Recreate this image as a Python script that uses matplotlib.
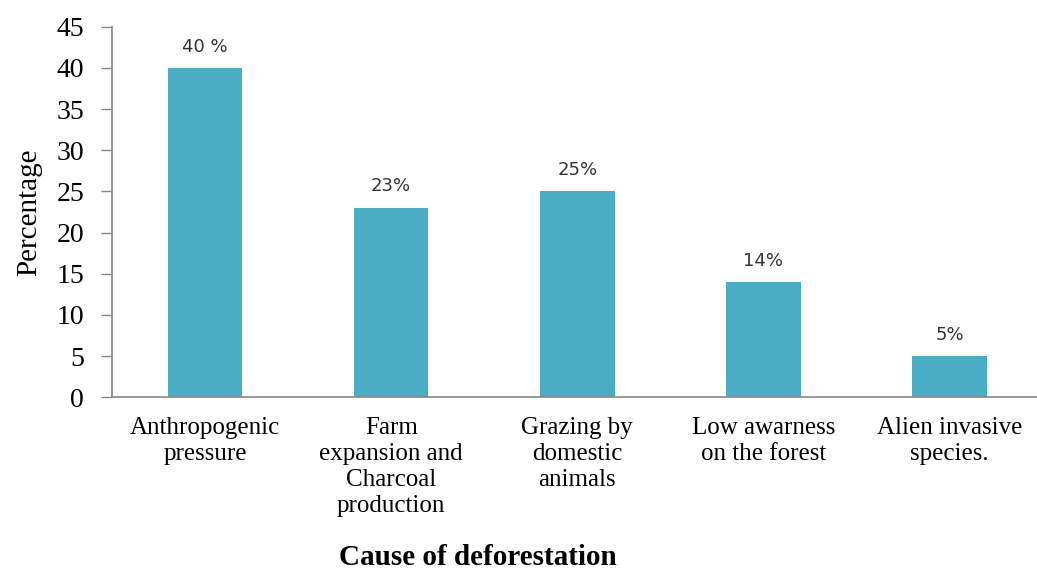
import matplotlib
matplotlib.use("Agg")
import matplotlib.pyplot as plt

causes = ["Anthropogenic\npressure", "Farm\nexpansion and\nCharcoal\nproduction",
          "Grazing by\ndomestic\nanimals", "Low awarness\non the forest",
          "Alien invasive\nspecies."]
percent = [40, 23, 25, 14, 5]
bar_labels = ["40 %", "23%", "25%", "14%", "5%"]

fig = plt.figure(figsize=(10.37, 5.69), dpi=100)
ax = fig.add_axes([0.108, 0.302, 0.892, 0.651])

x = range(len(causes))
bars = ax.bar(x, percent, width=0.4, color="#4BACC6")
for b, lab in zip(bars, bar_labels):
    ax.text(b.get_x() + b.get_width() / 2, b.get_height() + 1.5, lab,
            ha="center", va="bottom", fontsize=13, family="DejaVu Sans", color="#333333")

ax.set_xlim(-0.5, 4.47)
ax.set_ylim(0, 45)
ax.set_yticks(range(0, 46, 5))
ax.set_xticks(list(x))
ax.set_xticklabels(causes, family="Liberation Serif", fontsize=18, linespacing=1.25)
ax.tick_params(axis="x", length=0, pad=14)
ax.tick_params(axis="y", length=8, width=1, color="#868686", pad=12)
for t in ax.get_yticklabels():
    t.set_family("Liberation Serif")
    t.set_fontsize(20)

for side in ["top", "right"]:
    ax.spines[side].set_visible(False)
for side in ["left", "bottom"]:
    ax.spines[side].set_color("#868686")
    ax.spines[side].set_linewidth(1.2)

ax.set_ylabel("Percentage", family="Liberation Serif", fontsize=21, labelpad=10)
fig.text(0.461, 0.021, "Cause of deforestation", family="Liberation Serif",
         fontsize=21, fontweight="bold", ha="center", va="center")

fig.savefig("out.png", dpi=100)
